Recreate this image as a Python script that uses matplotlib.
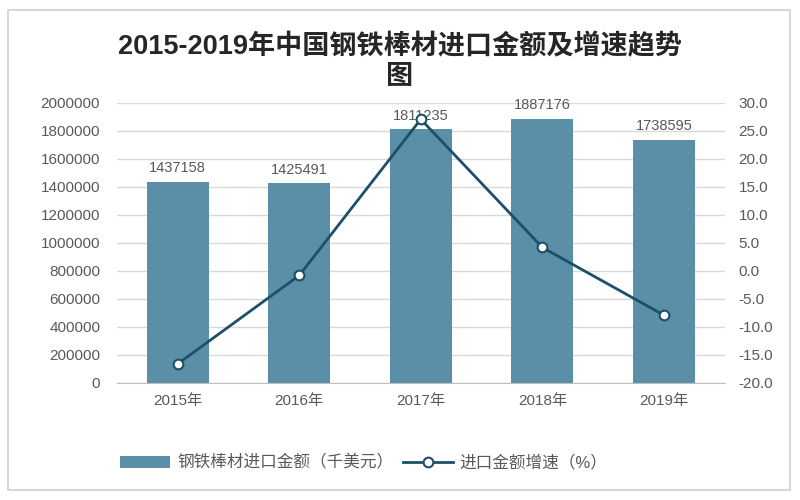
import matplotlib
matplotlib.use("Agg")
import matplotlib.pyplot as plt
from matplotlib.patches import Rectangle
from matplotlib.ticker import FuncFormatter

plt.rcParams['font.family'] = ['Liberation Sans', 'Noto Sans CJK SC', 'DejaVu Sans']

years = ["2015年", "2016年", "2017年", "2018年", "2019年"]
amount = [1437158, 1425491, 1811235, 1887176, 1738595]
growth = [-16.6, -0.8, 27.1, 4.2, -7.9]
title = "2015-2019年中国钢铁棒材进口金额及增速趋势\n图"
bar_label = "钢铁棒材进口金额（千美元）"
line_label = "进口金额增速（%）"

bar_color = "#5b8fa7"
line_color = "#1c4f69"
tick_color = "#595959"

fig = plt.figure(figsize=(8, 5), dpi=100)
fig.patches.append(Rectangle((8/800, 10/500), 782/800, 480/500, transform=fig.transFigure,
                             fill=False, edgecolor="#d0d0d0", linewidth=1.2))
ax = fig.add_axes([0.146, 0.234, 0.76, 0.56])
x = list(range(len(years)))
bars = ax.bar(x, amount, width=0.51, color=bar_color, label=bar_label, zorder=2)
ax.set_ylim(0, 2000000)
ax.set_yticks(range(0, 2000001, 200000))
ax.yaxis.set_major_formatter(FuncFormatter(lambda v, p: f"{int(v)}"))
ax.set_xlim(-0.5, len(years) - 0.5)
ax.set_xticks(x)
ax.set_xticklabels(years)
ax.grid(axis='y', color="#d9d9d9", linewidth=1, zorder=0)
ax.set_axisbelow(True)
for s in ["top", "left", "right"]:
    ax.spines[s].set_visible(False)
ax.spines["bottom"].set_color("#bfbfbf")
ax.tick_params(axis='both', length=0, colors=tick_color, labelsize=11)
ax.tick_params(axis='y', pad=12)
ax.tick_params(axis='x', pad=8)
for xi, v in zip(x, amount):
    ax.text(xi, v + 45000, str(v), ha='center', va='bottom', fontsize=10.5, color=tick_color, zorder=3)

ax2 = ax.twinx()
ax2.plot(x, growth, color=line_color, linewidth=2, marker='o', markersize=7,
         markerfacecolor='white', markeredgecolor=line_color, markeredgewidth=1.5, label=line_label, zorder=4)
ax2.set_ylim(-20, 30)
ax2.set_yticks(range(-20, 31, 5))
ax2.yaxis.set_major_formatter(FuncFormatter(lambda v, p: f"{v:.1f}"))
for s in ["top", "left", "right", "bottom"]:
    ax2.spines[s].set_visible(False)
ax2.tick_params(axis='y', length=0, colors=tick_color, labelsize=11, pad=10)

fig.text(0.5, 0.82, title, ha='center', va='bottom', fontsize=19.5, fontweight='bold',
         color="#262626", linespacing=1.2)

h1, l1 = ax.get_legend_handles_labels()
h2, l2 = ax2.get_legend_handles_labels()
fig.legend(h1 + h2, l1 + l2, loc='center', bbox_to_anchor=(0.455, 0.075), ncol=2, frameon=False,
           fontsize=12, labelcolor=tick_color, handlelength=3.0, columnspacing=0.6, handletextpad=0.4)

fig.savefig("out.png", dpi=100)
